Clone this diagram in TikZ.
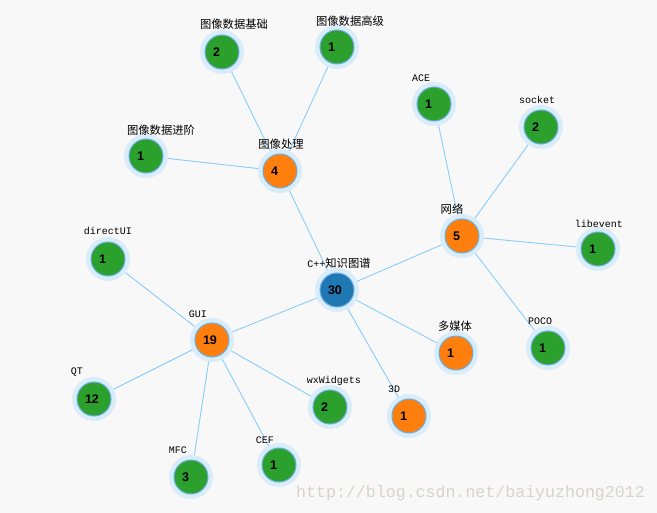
\documentclass[tikz,border=0pt]{standalone}
\usepackage{fontspec}
\newfontfamily\cjk{Noto Sans CJK SC}
\newfontfamily\labmono{Liberation Mono}
\newfontfamily\numfont{Liberation Sans}
\definecolor{bg}{HTML}{F8F8F8}
\definecolor{link}{HTML}{87CEFA}
\definecolor{halo}{HTML}{D8ECFA}
\definecolor{ring}{HTML}{6AAEE0}
\definecolor{cblue}{HTML}{1F77B4}
\definecolor{corange}{HTML}{FF7F0E}
\definecolor{cgreen}{HTML}{2CA02C}
\definecolor{wm}{HTML}{D8D4CC}
\newcommand{\numtxt}[1]{\makebox[0pt][l]{\hspace{-9pt}#1}}
\tikzset{
  x=1pt,y=-1pt,
  vnode/.style={circle,minimum size=34pt,inner sep=0pt,draw=ring,line width=1pt,
    font=\numfont\bfseries\fontsize{12.5}{13}\selectfont,text=black},
  bluen/.style={vnode,fill=cblue},
  orangen/.style={vnode,fill=corange},
  greenn/.style={vnode,fill=cgreen},
  lab/.style={font=\labmono\fontsize{10}{12}\selectfont,text=black,inner sep=0pt},
  clab/.style={font=\cjk\fontsize{11.3}{13}\selectfont,text=black,inner sep=0pt},
  edge/.style={draw=link,line width=0.9pt}
}
\begin{document}
\begin{tikzpicture}
\fill[bg] (0,0) rectangle (657,513);
\useasboundingbox (0,0) rectangle (657,513);
% coordinates of nodes
\coordinate (pc) at (337,290);
\coordinate (pimg) at (280,171);
\coordinate (pimgb) at (222,52);
\coordinate (pimgh) at (337,47);
\coordinate (pimgj) at (146,156);
\coordinate (pnet) at (462,236);
\coordinate (pace) at (434,104);
\coordinate (psock) at (541,127);
\coordinate (plibe) at (598,249);
\coordinate (ppoco) at (548,348);
\coordinate (pmm) at (456,353);
\coordinate (p3d) at (409,416);
\coordinate (pgui) at (212,340);
\coordinate (pdui) at (108,259);
\coordinate (pqt) at (94,399);
\coordinate (pmfc) at (191,477);
\coordinate (pcef) at (279,465);
\coordinate (pwx) at (330,407);
% edges
\foreach \a/\b in {pc/pimg,pimg/pimgb,pimg/pimgh,pimg/pimgj,pc/pnet,pnet/pace,pnet/psock,pnet/plibe,pnet/ppoco,pc/pmm,pc/p3d,pc/pgui,pgui/pdui,pgui/pqt,pgui/pmfc,pgui/pcef,pgui/pwx}
  \draw[edge] (\a) -- (\b);
% halos
\foreach \p in {pc,pimg,pimgb,pimgh,pimgj,pnet,pace,psock,plibe,ppoco,pmm,p3d,pgui,pdui,pqt,pmfc,pcef,pwx}
  \fill[halo] (\p) circle (22);
% nodes
\node[bluen] (c) at (pc) {\numtxt{30}};
\node[orangen] (img) at (pimg) {\numtxt{4}};
\node[greenn] (imgb) at (pimgb) {\numtxt{2}};
\node[greenn] (imgh) at (pimgh) {\numtxt{1}};
\node[greenn] (imgj) at (pimgj) {\numtxt{1}};
\node[orangen] (net) at (pnet) {\numtxt{5}};
\node[greenn] (ace) at (pace) {\numtxt{1}};
\node[greenn] (sock) at (psock) {\numtxt{2}};
\node[greenn] (libe) at (plibe) {\numtxt{1}};
\node[greenn] (poco) at (ppoco) {\numtxt{1}};
\node[orangen] (mm) at (pmm) {\numtxt{1}};
\node[orangen] (d3) at (p3d) {\numtxt{1}};
\node[orangen] (gui) at (pgui) {\numtxt{19}};
\node[greenn] (dui) at (pdui) {\numtxt{1}};
\node[greenn] (qt) at (pqt) {\numtxt{12}};
\node[greenn] (mfc) at (pmfc) {\numtxt{3}};
\node[greenn] (cef) at (pcef) {\numtxt{1}};
\node[greenn] (wx) at (pwx) {\numtxt{2}};
% labels
\node[inner sep=0pt] (lc) at (339,263) {{\labmono\fontsize{10}{12}\selectfont C++}{\cjk\fontsize{11.3}{13}\selectfont 知识图谱}};
\node[clab] (limg) at (281,144) {图像处理};
\node[clab] (limgb) at (234,24) {图像数据基础};
\node[clab] (limgh) at (350,21) {图像数据高级};
\node[clab] (limgj) at (161,130) {图像数据进阶};
\node[clab] (lnet) at (452,209) {网络};
\node[lab] (lace) at (421,78) {ACE};
\node[lab] (lsock) at (537,100) {socket};
\node[lab] (llibe) at (599,224) {libevent};
\node[lab] (lpoco) at (540,321) {POCO};
\node[clab] (lmm) at (455,326) {多媒体};
\node[lab] (l3d) at (394,389) {3D};
\node[lab] (lgui) at (198,314) {GUI};
\node[lab] (ldui) at (108,231) {directUI};
\node[lab] (lqt) at (77,372) {QT};
\node[lab] (lmfc) at (178,450) {MFC};
\node[lab] (lcef) at (265,440) {CEF};
\node[lab] (lwx) at (334,381) {wxWidgets};
% watermark
\node[anchor=west,inner sep=0pt,text=wm,font=\labmono\fontsize{16.6}{18}\selectfont] (wmk) at (296,493) {http://blog.csdn.net/baiyuzhong2012};
\end{tikzpicture}
\end{document}
